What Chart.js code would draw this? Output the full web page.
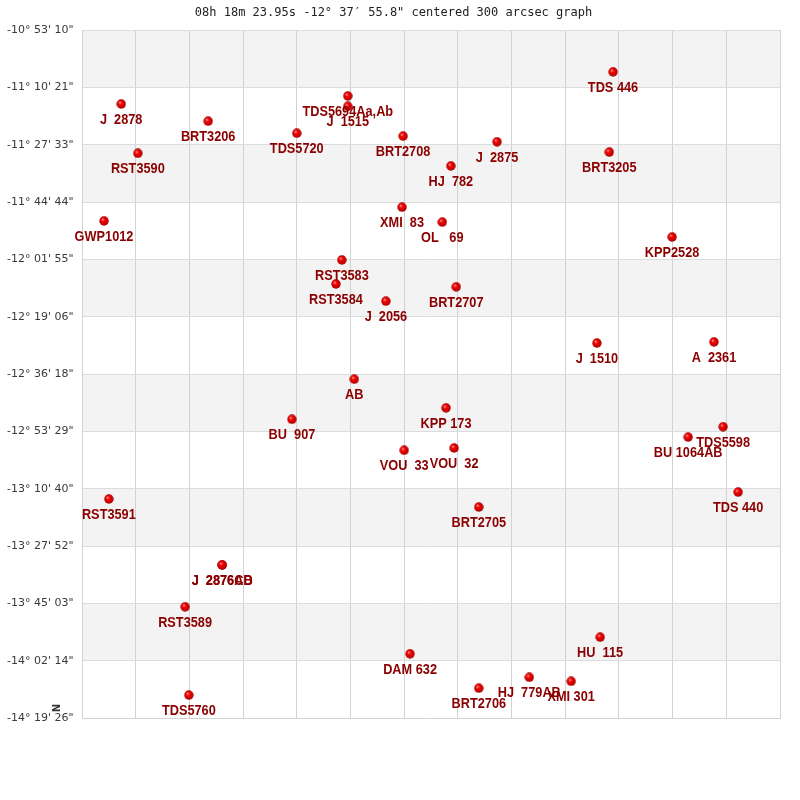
<!DOCTYPE html>
<html>
<head>
<meta charset="utf-8">
<script src="https://cdn.jsdelivr.net/npm/chart.js@4.4.0/dist/chart.umd.min.js"></script>
<style>
 html, body { margin: 0; padding: 0; background: #fff; }
 #wrap { width: 800px; height: 800px; }
</style>
</head>
<body>
<div id="wrap"><canvas id="myChart" width="800" height="800"></canvas></div>
<script>
// star names, positions in grid units (x: 0..13 left to right, y: 0..12 top to bottom)
const starNames = [
 'TDS 446', 'J  2878', 'BRT3206', 'TDS5720', 'TDS5694Aa,Ab', 'J  1515', 'BRT2708', 'J  2875',
 'HJ  782', 'BRT3205', 'RST3590', 'XMI  83', 'OL   69', 'GWP1012', 'KPP2528', 'RST3583',
 'RST3584', 'BRT2707', 'J  2056', 'J  1510', 'A  2361', 'AB', 'BU  907', 'KPP 173',
 'VOU  33', 'VOU  32', 'TDS5598', 'BU 1064AB', 'TDS 440', 'RST3591', 'BRT2705', 'J  2876AB',
 'J  2876CD', 'RST3589', 'DAM 632', 'HU  115', 'BRT2706', 'HJ  779AB', 'XMI 301', 'TDS5760'
];
const starX = [
 9.89, 0.73, 2.35, 4.00, 4.95, 4.95, 5.98, 7.73,
 6.87, 9.82, 1.04, 5.96, 6.71, 0.41, 10.99, 4.84,
 4.73, 6.97, 5.66, 9.59, 11.77, 5.07, 3.91, 6.78,
 6.00, 6.93, 11.94, 11.29, 12.22, 0.50, 7.39, 2.61,
 2.61, 1.92, 6.11, 9.65, 7.39, 8.33, 9.11, 1.99
];
const starY = [
 0.73, 1.29, 1.59, 1.80, 1.15, 1.33, 1.85, 1.95,
 2.37, 2.13, 2.15, 3.09, 3.35, 3.33, 3.61, 4.01,
 4.43, 4.48, 4.73, 5.46, 5.44, 6.09, 6.79, 6.59,
 7.33, 7.29, 6.92, 7.10, 8.06, 8.18, 8.32, 9.33,
 9.33, 10.06, 10.88, 10.59, 11.48, 11.29, 11.36, 11.60
];
const decLabels = [
 '-10° 53\' 10"', '-11° 10\' 21"', '-11° 27\' 33"', '-11° 44\' 44"', '-12° 01\' 55"',
 '-12° 19\' 06"', '-12° 36\' 18"', '-12° 53\' 29"', '-13° 10\' 40"', '-13° 27\' 52"',
 '-13° 45\' 03"', '-14° 02\' 14"', '-14° 19\' 26"'
];
const titleText = '08h 18m 23.95s -12° 37′ 55.8" centered 300 arcsec graph';

// little shaded red ball used as the point style
function makeBall() {
 var c = document.createElement('canvas');
 c.width = 10; c.height = 10;
 var g = c.getContext('2d');
 var grad = g.createRadialGradient(3.6, 3.4, 0.3, 5, 5, 5);
 grad.addColorStop(0, '#ff8a8a');
 grad.addColorStop(0.35, '#f00000');
 grad.addColorStop(0.8, '#c40000');
 grad.addColorStop(1, '#800000');
 g.fillStyle = grad;
 g.beginPath();
 g.arc(5, 5, 4.7, 0, Math.PI * 2);
 g.fill();
 return c;
}

// alternating grey bands behind the plot
const bandPlugin = {
 id: 'bands',
 beforeDraw(chart) {
  var ctx = chart.ctx, a = chart.chartArea, y = chart.scales.y;
  ctx.save();
  for (let i = 0; i < decLabels.length - 1; i += 2) {
   var top = y.getPixelForValue(i);
   var bot = y.getPixelForValue(i + 1);
   ctx.fillStyle = '#f3f3f3';
   ctx.fillRect(a.left, top, a.right - a.left, bot - top);
  }
  ctx.restore();
 }
};

// star names under each ball, plus the little N marker
const labelPlugin = {
 id: 'starLabels',
 afterDatasetsDraw(chart) {
  var ctx = chart.ctx;
  var meta = chart.getDatasetMeta(0);
  ctx.save();
  ctx.font = 'bold 15px "Liberation Sans", Arial, sans-serif';
  ctx.fillStyle = '#8b0000';
  ctx.textAlign = 'center';
  ctx.textBaseline = 'middle';
  meta.data.forEach(function(pt, i) {
   ctx.save();
   ctx.translate(pt.x, pt.y + 16);
   ctx.scale(0.85, 1);
   ctx.fillText(starNames[i], 0, 0);
   ctx.restore();
  });
  var a = chart.chartArea;
  ctx.translate(a.left - 25, a.bottom - 10);
  ctx.rotate(-Math.PI / 2);
  ctx.font = 'bold 10px "DejaVu Sans", sans-serif';
  ctx.fillStyle = '#333';
  ctx.fillText('N', 0, 0);
  ctx.restore();
 }
};

var ctx = document.getElementById('myChart').getContext('2d');
var points = starX.map(function(x, i) { return { x: x, y: starY[i] }; });

var myChart = new Chart(ctx, {
 type: 'scatter',
 data: {
  datasets: [{
   data: points,
   pointStyle: makeBall(),
   pointRadius: 5,
   pointHoverRadius: 5
  }]
 },
 options: {
  responsive: false,
  animation: false,
  events: [],
  layout: { padding: { left: 7, right: 20, bottom: 82, top: 0 } },
  plugins: {
   legend: { display: false },
   tooltip: { enabled: false },
   title: {
    display: true,
    text: titleText,
    color: '#222',
    font: { family: '"DejaVu Sans Mono", monospace', size: 12, weight: 'normal' },
    padding: { top: 6, bottom: 9.6 }
   }
  },
  scales: {
   x: {
    type: 'linear',
    min: 0,
    max: 13,
    ticks: { display: false, stepSize: 1 },
    grid: { color: '#d2d2d2', drawTicks: false },
    border: { color: '#d2d2d2' }
   },
   y: {
    type: 'linear',
    min: 0,
    max: 12,
    reverse: true,
    afterFit: function(scale) { scale.width = 75; },
    ticks: {
     stepSize: 1,
     crossAlign: 'far',
     color: '#3a3a3a',
     font: { family: '"DejaVu Sans", sans-serif', size: 11 },
     callback: function(v) { return decLabels[v]; }
    },
    grid: { color: '#dcdcdc', drawTicks: false },
    border: { color: '#d2d2d2' }
   }
  }
 },
 plugins: [bandPlugin, labelPlugin]
});
</script>
</body>
</html>
